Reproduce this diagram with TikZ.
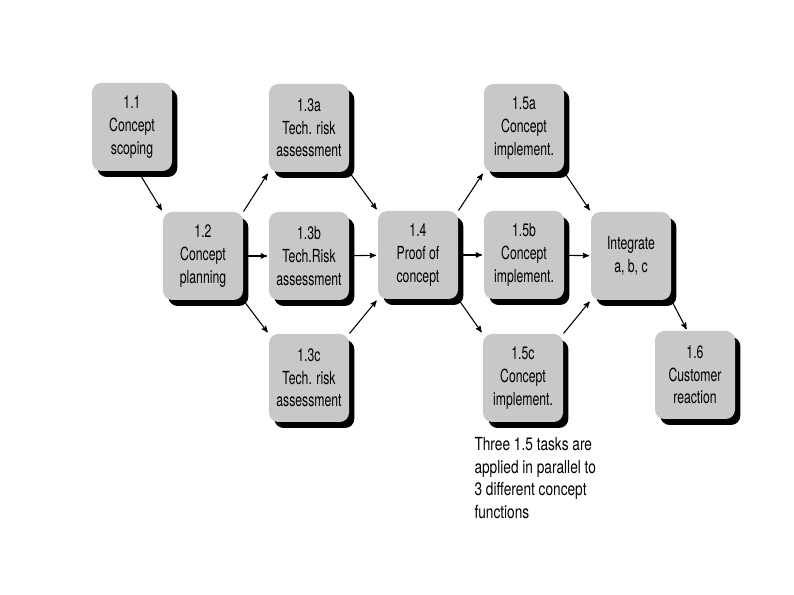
\documentclass[tikz,border=0pt]{standalone}
\usepackage{fontspec}
\setmainfont{TeX Gyre Heros}[FakeStretch=0.68]
\newfontfamily\notefont{TeX Gyre Heros}[FakeStretch=0.76]
\usepackage{tikz}
\usetikzlibrary{arrows, shadows}

\definecolor{boxgray}{RGB}{200,200,200}

\begin{document}
\begin{tikzpicture}[x=0.75pt, y=-0.75pt,
					->,
					>=stealth',
					shorten >=1pt,
					line width=0.8pt,
					task/.style={rectangle, rounded corners=7pt, fill=boxgray,
						minimum width=60pt, minimum height=66pt, inner sep=1pt,
						align=center, font=\fontsize{13.5}{17}\selectfont,
						drop shadow={shadow xshift=4pt, shadow yshift=-4.5pt, opacity=1, fill=black}}]

					\useasboundingbox (0,0) rectangle (794,595);

					\node[task] (n11) at (132,127) {1.1\\Concept\\scoping};
					\node[task] (n12) at (203,256) {1.2\\Concept\\planning};
					\node[task] (n13a) at (309,128) {1.3a\\Tech. risk\\assessment};
					\node[task] (n13b) at (309,256) {1.3b\\Tech.Risk\\assessment};
					\node[task] (n13c) at (309,378) {1.3c\\Tech. risk\\assessment};
					\node[task] (n14) at (418,255) {1.4\\Proof of\\concept};
					\node[task] (n15a) at (524,128) {1.5a\\Concept\\implement.};
					\node[task] (n15b) at (524,255) {1.5b\\Concept\\implement.};
					\node[task] (n15c) at (523,378) {1.5c\\Concept\\implement.};
					\node[task] (nint) at (631,256) {Integrate\\a, b, c};
					\node[task] (n16) at (695,375) {1.6\\Customer\\reaction};

					\node[anchor=north west, align=left, inner sep=0pt,
						font=\notefont\fontsize{13.5}{17}\selectfont] (note) at (474,437)
						{Three 1.5 tasks are\\applied in parallel to\\3 different concept\\functions};

					\draw (n11.-82) -- (n12.north west);
					\draw (n12.north east) -- (n13a.south west);
					\draw (n12) -- (n13b);
					\draw (n12.south east) -- (n13c.north west);
					\draw (n13a.south east) -- (n14.north west);
					\draw (n13b) -- (n14);
					\draw (n13c.north east) -- (n14.south west);
					\draw (n14.north east) -- (n15a.south west);
					\draw (n14) -- (n15b);
					\draw (n14.south east) -- (n15c.north west);
					\draw (n15a.south east) -- (nint.north west);
					\draw (n15b) -- (nint);
					\draw (n15c.north east) -- (nint.south west);
					\draw (nint.south east) -- (n16.100);
				\end{tikzpicture}
\end{document}
